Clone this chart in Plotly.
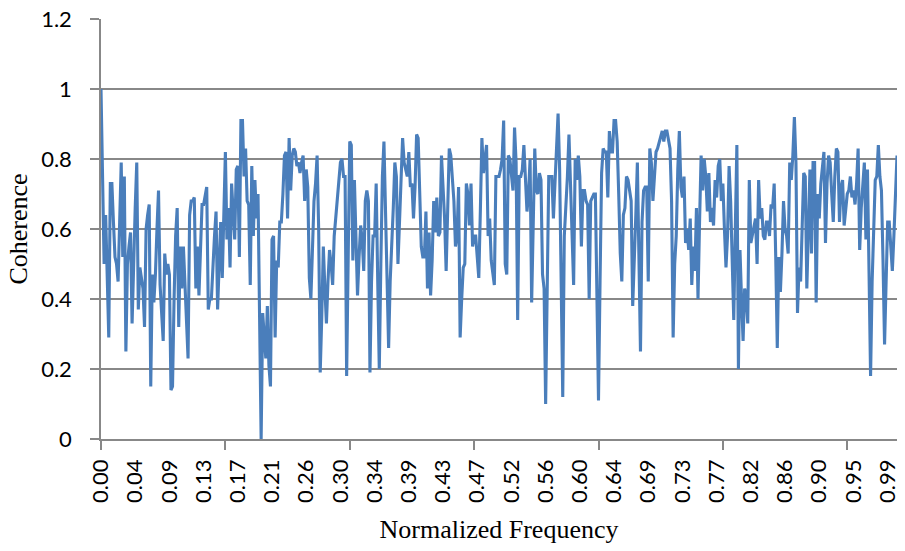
import plotly.graph_objects as go

# Coherence values, in order of frequency bin (bin i -> i/512)
coherence_part1 = [1.00, 0.76, 0.50, 0.64, 0.45, 0.29, 0.73, 0.73, 0.62, 0.52,
                   0.50, 0.45, 0.62, 0.79, 0.52, 0.75, 0.25, 0.50, 0.55, 0.59,
                   0.33, 0.54, 0.66, 0.79, 0.37, 0.49, 0.46, 0.43, 0.32, 0.60,
                   0.64, 0.67, 0.15, 0.47, 0.39, 0.47, 0.60, 0.71, 0.44, 0.36,
                   0.28, 0.53, 0.47, 0.50, 0.47, 0.14, 0.15, 0.40, 0.58, 0.66,
                   0.32, 0.55, 0.43, 0.55, 0.45, 0.34, 0.23, 0.64, 0.68, 0.68]
coherence_part2 = [0.69, 0.43, 0.55, 0.41, 0.55, 0.67, 0.67, 0.70, 0.72, 0.37,
                   0.40, 0.40, 0.52, 0.58, 0.65, 0.37, 0.50, 0.62, 0.46, 0.64,
                   0.82, 0.57, 0.66, 0.49, 0.73, 0.65, 0.57, 0.77, 0.78, 0.52,
                   0.91, 0.91, 0.75, 0.83, 0.68, 0.67, 0.44, 0.78, 0.58, 0.74,
                   0.63, 0.70, 0.37, 0.00, 0.36, 0.30, 0.23, 0.38, 0.21, 0.15,
                   0.57, 0.58, 0.29, 0.51, 0.49, 0.62, 0.62, 0.70, 0.81, 0.82,
                   0.63, 0.86, 0.71, 0.81]
coherence_part3 = [0.83, 0.82, 0.78, 0.79, 0.76, 0.79, 0.81, 0.68, 0.77, 0.72,
                   0.46, 0.40, 0.55, 0.68, 0.73, 0.81, 0.60, 0.19, 0.35, 0.55,
                   0.43, 0.33, 0.45, 0.54, 0.50, 0.44, 0.58, 0.64, 0.67, 0.74,
                   0.79, 0.80, 0.75, 0.75, 0.18, 0.52, 0.85, 0.84, 0.51, 0.74,
                   0.60, 0.41, 0.52, 0.61, 0.57, 0.48, 0.68, 0.71, 0.68, 0.19,
                   0.45, 0.58, 0.58, 0.73, 0.45, 0.20, 0.50, 0.75, 0.85, 0.65,
                   0.45, 0.26, 0.45, 0.59, 0.66]
coherence_part4 = [0.79, 0.75, 0.50, 0.62, 0.71, 0.86, 0.79, 0.77, 0.75, 0.82,
                   0.72, 0.73, 0.63, 0.72, 0.87, 0.86, 0.70, 0.55, 0.52, 0.52,
                   0.65, 0.43, 0.59, 0.41, 0.51, 0.68, 0.59, 0.69, 0.58, 0.59,
                   0.81, 0.72, 0.63, 0.48, 0.65, 0.83, 0.81, 0.75, 0.68, 0.55,
                   0.58, 0.72, 0.29, 0.40, 0.49, 0.50, 0.73, 0.70, 0.61, 0.73,
                   0.55, 0.58, 0.58, 0.52, 0.46, 0.65, 0.86, 0.76, 0.80, 0.84,
                   0.58, 0.63, 0.51, 0.48]
coherence_part5 = [0.44, 0.75, 0.75, 0.75, 0.77, 0.80, 0.91, 0.50, 0.47, 0.81,
                   0.80, 0.76, 0.71, 0.89, 0.79, 0.34, 0.75, 0.75, 0.77, 0.84,
                   0.72, 0.65, 0.70, 0.80, 0.39, 0.60, 0.83, 0.71, 0.70, 0.76,
                   0.74, 0.47, 0.43, 0.10, 0.45, 0.75, 0.75, 0.75, 0.63, 0.72,
                   0.82, 0.93, 0.77, 0.45, 0.12, 0.58, 0.66, 0.75, 0.87, 0.72,
                   0.58, 0.44, 0.80, 0.74, 0.81, 0.75, 0.55, 0.71, 0.71, 0.68,
                   0.67, 0.40, 0.68, 0.69, 0.70]
coherence_part6 = [0.70, 0.45, 0.11, 0.45, 0.76, 0.83, 0.82, 0.82, 0.69, 0.88,
                   0.82, 0.82, 0.91, 0.91, 0.85, 0.70, 0.53, 0.45, 0.64, 0.66,
                   0.75, 0.74, 0.71, 0.68, 0.38, 0.55, 0.64, 0.79, 0.45, 0.25,
                   0.62, 0.71, 0.72, 0.72, 0.45, 0.83, 0.79, 0.68, 0.75, 0.82,
                   0.83, 0.85, 0.87, 0.88, 0.85, 0.88, 0.88, 0.85, 0.83, 0.68,
                   0.29, 0.50, 0.58, 0.77, 0.88, 0.72, 0.69, 0.75, 0.56, 0.60,
                   0.54, 0.63, 0.44, 0.55, 0.48, 0.66, 0.40]
coherence_part7 = [0.62, 0.81, 0.71, 0.80, 0.75, 0.65, 0.76, 0.62, 0.66, 0.61,
                   0.74, 0.69, 0.78, 0.80, 0.68, 0.73, 0.60, 0.49, 0.58, 0.78,
                   0.68, 0.50, 0.34, 0.60, 0.84, 0.20, 0.54, 0.40, 0.28, 0.43,
                   0.41, 0.33, 0.74, 0.56, 0.58, 0.60, 0.63, 0.50, 0.74, 0.63,
                   0.66, 0.58, 0.57, 0.62, 0.62, 0.58, 0.67, 0.66, 0.73, 0.52,
                   0.26, 0.52, 0.42, 0.53, 0.68, 0.60, 0.58, 0.53, 0.79, 0.74,
                   0.81]
coherence_part8 = [0.92, 0.79, 0.36, 0.49, 0.45, 0.65, 0.76, 0.75, 0.43, 0.60,
                   0.77, 0.53, 0.79, 0.79, 0.39, 0.70, 0.63, 0.73, 0.78, 0.82,
                   0.56, 0.73, 0.81, 0.79, 0.70, 0.62, 0.75, 0.83, 0.82, 0.62,
                   0.72, 0.74, 0.61, 0.66, 0.70, 0.71, 0.75, 0.69, 0.71, 0.67,
                   0.73, 0.83, 0.54, 0.66, 0.72, 0.79, 0.57, 0.77, 0.48, 0.18,
                   0.45, 0.62, 0.74, 0.75, 0.84, 0.75, 0.71, 0.51, 0.27, 0.45,
                   0.62, 0.62, 0.55, 0.48, 0.58, 0.70, 0.81]

coherence = (coherence_part1 + coherence_part2 + coherence_part3 + coherence_part4 +
             coherence_part5 + coherence_part6 + coherence_part7 + coherence_part8)

n_bins = 512
frequency = [i / n_bins for i in range(len(coherence))]

# category-axis labelling as in the reference: a label every 22 bins, a tick mark every 80 bins
label_step = 22
mark_step = 80
x_tick_labels = ["0.00", "0.04", "0.09", "0.13", "0.17", "0.21", "0.26", "0.30",
                 "0.34", "0.39", "0.43", "0.47", "0.52", "0.56", "0.60", "0.64",
                 "0.69", "0.73", "0.77", "0.82", "0.86", "0.90", "0.95", "0.99"]
y_tick_values = [0, 0.2, 0.4, 0.6, 0.8, 1.0, 1.2]
y_tick_labels = ["0", "0.2", "0.4", "0.6", "0.8", "1", "1.2"]

label_positions = [frequency[i] for i in range(0, len(frequency), label_step)][:len(x_tick_labels)]
mark_positions = [frequency[i] for i in range(0, len(frequency), mark_step)]
mark_positions[0] = mark_positions[0] + 1e-6

GRID = "#888888"
TICKFONT = dict(family="Lato, Carlito, Calibri, sans-serif", size=22, color="#000000")
TITLEFONT = dict(family="Liberation Serif, Times New Roman, serif", size=26, color="#000000")

fig = go.Figure()
fig.add_trace(go.Scatter(
    x=frequency, y=coherence, mode="lines",
    line=dict(color="#4a7ebb", width=3.1),
    hoverinfo="x+y", showlegend=False,
))

fig.update_layout(
    width=905, height=551,
    margin=dict(l=101, r=5, t=16, b=112),
    paper_bgcolor="white", plot_bgcolor="white",
    showlegend=False,
)

fig.update_xaxes(
    range=[0, frequency[-1]],
    tickmode="array", tickvals=label_positions, ticktext=x_tick_labels,
    tickangle=-90, tickfont=TICKFONT, ticks="", ticklabelstandoff=10,
    showgrid=False, zeroline=False,
    showline=True, linecolor=GRID, linewidth=1.5,
    minor=dict(tickmode="array", tickvals=mark_positions, ticks="outside",
               ticklen=9, tickwidth=1.5, tickcolor=GRID, showgrid=False),
    title=dict(text="Normalized Frequency", font=TITLEFONT, standoff=18),
)

fig.update_yaxes(
    range=[0, 1.2],
    tickmode="array", tickvals=y_tick_values, ticktext=y_tick_labels,
    tickfont=TICKFONT, ticks="outside", ticklen=9, tickwidth=1.5, tickcolor=GRID,
    ticklabelstandoff=14,
    showgrid=True, gridcolor=GRID, gridwidth=1.5,
    zeroline=False, showline=True, linecolor=GRID, linewidth=1.5,
    title=dict(text="Coherence", font=TITLEFONT, standoff=6),
)

fig.write_html("out.html")
